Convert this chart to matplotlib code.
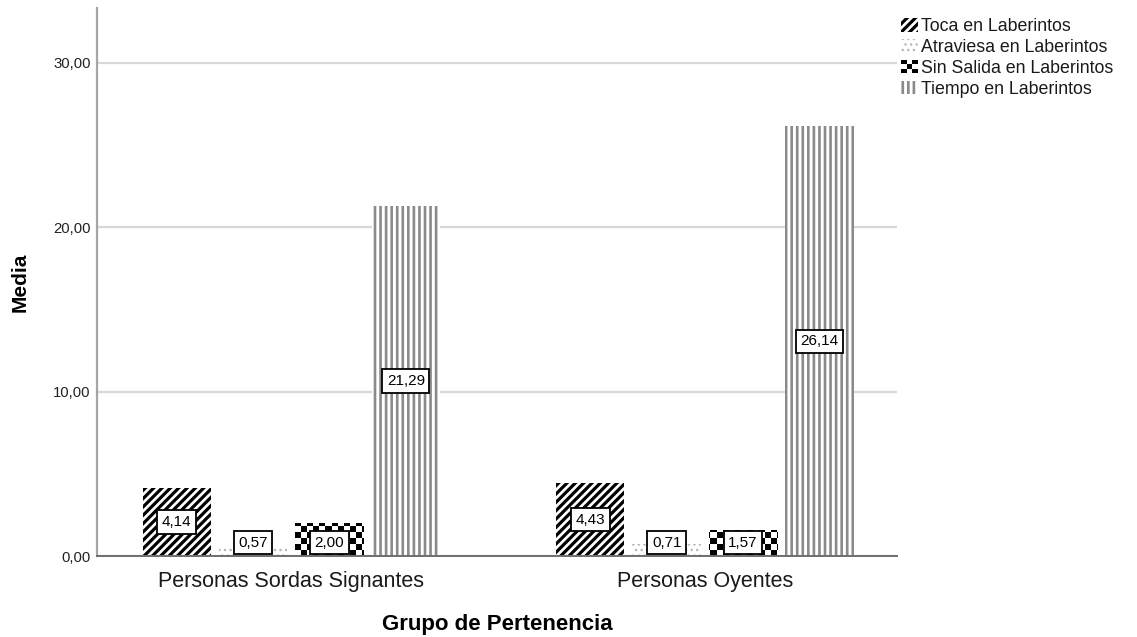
import numpy as np
import matplotlib
matplotlib.use("Agg")
import matplotlib.pyplot as plt
from matplotlib.patches import Rectangle
from matplotlib.legend_handler import HandlerBase

# ---------------- data ----------------
groups = ["Personas Sordas Signantes", "Personas Oyentes"]
series = ["Toca en Laberintos", "Atraviesa en Laberintos",
          "Sin Salida en Laberintos", "Tiempo en Laberintos"]
toca = [4.14, 4.43]
atraviesa = [0.57, 0.71]
sin_salida = [2.00, 1.57]
tiempo = [21.29, 26.14]
yticks = [0, 10, 20, 30]
ytick_labels = ["0,00", "10,00", "20,00", "30,00"]
values = [toca, atraviesa, sin_salida, tiempo]

plt.rcParams['font.family'] = ['Liberation Sans', 'DejaVu Sans']

W, H = 1137, 637
fig = plt.figure(figsize=(W / 100, H / 100), dpi=100)
ax = fig.add_axes([97 / W, 1 - 556 / H, (896.7 - 97) / W, (556 - 8.3) / H])

x = np.arange(len(groups))
bw = 0.1653
step = 0.1847
offsets = (np.arange(len(series)) - 1.5) * step

styles = [
    dict(hatch='////', edgecolor='black', hlw=2.3),
    dict(hatch='...', edgecolor='#b8b8b8', hlw=1.0),
    dict(hatch=None, edgecolor='none', hlw=1.0),
    dict(hatch='|||', edgecolor='#8a8a8a', hlw=1.9),
]

containers = []
for vals, off, st in zip(values, offsets, styles):
    with plt.rc_context({'hatch.linewidth': st['hlw']}):
        c = ax.bar(x + off, vals, width=bw,
                   facecolor='white' if st['hatch'] is not None else 'none',
                   edgecolor=st['edgecolor'], linewidth=0,
                   hatch=st['hatch'], zorder=2)
    for p in c.patches:
        if hasattr(p, 'set_hatch_linewidth'):
            p.set_hatch_linewidth(st['hlw'])
    containers.append(c)

# checkerboard for "Sin Salida"
rows, cols = 91, 133
checker = (np.indices((rows, cols)).sum(axis=0) % 2).astype(float)
for p in containers[2].patches:
    im = ax.imshow(checker, cmap='gray', interpolation='nearest', aspect='auto',
                   extent=(0, 1, 0, 1), transform=ax.transAxes, zorder=2.5)
    im.set_clip_path(p)

ax.set_xlim(-0.4698, 1.464)
ax.set_ylim(0, 33.31)

# value labels
for vals, off in zip(values, offsets):
    for xi, v in zip(x, vals):
        yl = v / 2 if v / 2 >= 1.5 else 0.8
        ax.text(xi + off, yl, f"{v:.2f}".replace('.', ','), ha='center', va='center',
                fontsize=11, color='black', zorder=5,
                bbox=dict(boxstyle='square,pad=0.3', facecolor='white',
                          edgecolor='black', linewidth=1.3))

# axes styling
ax.set_yticks(yticks)
ax.set_yticklabels(ytick_labels)
ax.set_xticks(x)
ax.set_xticklabels(groups)
ax.tick_params(axis='y', length=0, pad=4.5, labelsize=10.7, labelcolor='#222222')
ax.tick_params(axis='x', length=0, pad=10.5, labelsize=15.5, labelcolor='#1a1a1a')
ax.yaxis.grid(True, color='#d8d8d8', linewidth=1.6)
ax.set_axisbelow(True)
for s in ['top', 'right']:
    ax.spines[s].set_visible(False)
ax.spines['left'].set_color('#a6a6a6')
ax.spines['left'].set_linewidth(1.6)
ax.spines['bottom'].set_color('#6e6e6e')
ax.spines['bottom'].set_linewidth(1.4)

ax.set_xlabel("Grupo de Pertenencia", fontsize=16, fontweight='bold', labelpad=16)
ax.set_ylabel("Media", fontsize=15, fontweight='bold', labelpad=17)


# legend
class CheckerHandler(HandlerBase):
    def create_artists(self, legend, orig_handle, xdescent, ydescent,
                       width, height, fontsize, trans):
        arts = []
        nx, ny = 3, 3
        cw, ch = width / nx, height / ny
        for i in range(nx):
            for j in range(ny):
                if (i + j) % 2 == 0:
                    r = Rectangle((-xdescent + i * cw, -ydescent + j * ch), cw, ch,
                                  facecolor='black', edgecolor='none', transform=trans)
                    arts.append(r)
        return arts


checker_proxy = Rectangle((0, 0), 1, 1, facecolor='none', edgecolor='none')
handles = [containers[0], containers[1], checker_proxy, containers[3]]
leg = fig.legend(handles, series, loc='upper left',
                 bbox_to_anchor=(901 / W, 1 - 18 / H), frameon=False,
                 fontsize=12.8, handlelength=0.95, handleheight=0.8,
                 handletextpad=0.15, labelspacing=0.22, borderpad=0,
                 borderaxespad=0,
                 handler_map={checker_proxy: CheckerHandler()})
for h, st in zip(leg.legend_handles, styles):
    if h is not None and hasattr(h, 'set_hatch_linewidth'):
        h.set_hatch_linewidth(st['hlw'])
for t in leg.get_texts():
    t.set_color('#1a1a1a')

fig.savefig("out.png", dpi=100, facecolor='white')
